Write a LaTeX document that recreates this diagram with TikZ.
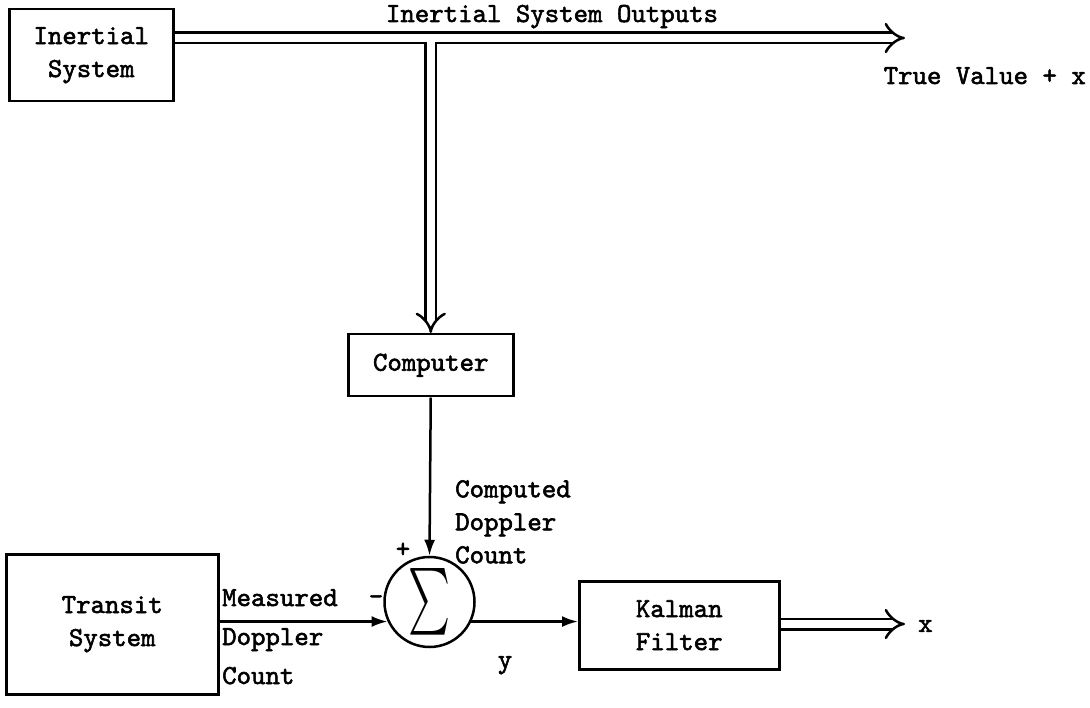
\documentclass[tikz,border=0pt]{standalone}
\usepackage{fontspec}
\usepackage{graphicx}
\setmonofont{lmmono10-regular.otf}[FakeBold=2]
\usetikzlibrary{arrows.meta,calc}
\begin{document}
\begin{tikzpicture}[x=1pt,y=-1pt,
  txt/.style={font=\ttfamily\fontsize{27.5}{33}\selectfont, inner sep=0pt},
  blk/.style={draw, line width=2.5pt, txt, align=center, anchor=north west},
  dbl/.style={double, double distance=8pt, line width=2.5pt, -{Implies}},
  arr/.style={line width=2.5pt, -{Latex[length=16pt,width=11pt]}}
]
\useasboundingbox (0,0) rectangle (1090,708);

% blocks
\node[blk, minimum width=164pt, minimum height=92pt] (inertial) at (8,8) {Inertial\\System};
\node[blk, minimum width=165pt, minimum height=62pt] (computer) at (347,333) {Computer};
\node[blk, minimum width=212pt, minimum height=140pt] (transit) at (5,553) {Transit\\System};
\node[blk, minimum width=200pt, minimum height=88pt] (kalman) at (578,580) {Kalman\\Filter};
\node[draw, circle, line width=2.5pt, minimum size=90pt, inner sep=0pt] (sum) at (429.5,602)
  {\resizebox{42pt}{50pt}{$\sum$}};

% coordinates
\coordinate (j) at (computer.north |- 0,38);
\coordinate (tip1) at (905,38);
\coordinate (tip2) at (905,624);

% connectors
\draw[dbl] (j) -- (computer.north);
\draw[dbl] (inertial.east |- j) -- (tip1);
\fill[white] ($(j)+(-3.9,3)$) rectangle ($(j)+(3.9,8)$);
\draw[arr] (computer.south) -- (sum.north);
\draw[arr] (transit.east |- sum.205) -- (sum.205);
\draw[arr] (sum.335) -- (kalman.west |- sum.335);
\draw[dbl] (kalman.east |- tip2) -- (tip2);

% labels
\node[txt, anchor=base] (outlbl) at (552,22) {Inertial System Outputs};
\node[txt, anchor=base east] (truelbl) at (1086,84) {True Value + x};
\node[txt, anchor=north west, align=left] (complbl) at (455,480) {Computed\\Doppler\\Count};
\node[txt, anchor=north west, align=left, font=\ttfamily\fontsize{27.5}{39}\selectfont] (measlbl) at (222,589) {Measured\\Doppler\\Count};
\node[txt] (plus) at (403,550) {+};
\node[txt] (minus) at (376,600) {-};
\node[txt, anchor=base] (ylbl) at (505,668) {y};
\node[txt, anchor=west] (xlbl) at (918,626) {x};
\end{tikzpicture}
\end{document}
